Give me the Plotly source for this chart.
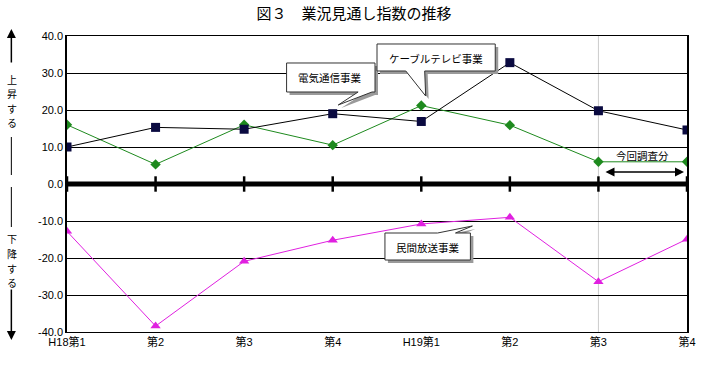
import plotly.graph_objects as go

categories = ["H18第1", "第2", "第3", "第4", "H19第1", "第2", "第3", "第4"]
telecom = [10.0, 15.3, 14.8, 19.0, 16.9, 32.8, 19.8, 14.6]      # 電気通信事業
cable = [16.0, 5.3, 16.0, 10.5, 21.2, 15.9, 6.0, 6.0]           # ケーブルテレビ事業
broadcast = [-12.8, -38.4, -20.9, -15.2, -10.8, -9.0, -26.4, -14.9]  # 民間放送事業
zero_line = [0.0] * len(categories)
y_ticks = [40, 30, 20, 10, 0, -10, -20, -30, -40]
y_ticktext = ["40.0", "30.0", "20.0", "10.0", "0.0", "-10.0", "-20.0", "-30.0", "-40.0"]

W, H = 708, 366
ML, MR, MT, MB = 67, 17, 36, 34
PW, PH = W - ML - MR, H - MT - MB

def px(x, y):
    return (x - ML) / PW, (H - MB - y) / PH

xs = list(range(len(categories)))
FONT = "Liberation Sans, Noto Sans CJK JP, sans-serif"
JFONT = "Noto Sans CJK JP, sans-serif"

fig = go.Figure()
fig.add_trace(go.Scatter(x=xs, y=zero_line, mode="lines+markers",
                         line=dict(color="black", width=5),
                         marker=dict(symbol="line-ns", size=11, line=dict(color="black", width=2.5)),
                         hoverinfo="skip", showlegend=False))
fig.add_trace(go.Scatter(x=xs, y=cable, mode="lines+markers", name="ケーブルテレビ事業",
                         line=dict(color="#1e8a1e", width=1),
                         marker=dict(symbol="diamond", size=8, color="#1e8a1e")))
fig.add_trace(go.Scatter(x=xs, y=telecom, mode="lines+markers", name="電気通信事業",
                         line=dict(color="black", width=1),
                         marker=dict(symbol="square", size=9, color="#0a0a40")))
fig.add_trace(go.Scatter(x=xs, y=broadcast, mode="lines+markers", name="民間放送事業",
                         line=dict(color="#e020e0", width=1),
                         marker=dict(symbol="triangle-up", size=9, color="#e020e0")))

shapes = []
shapes.append(dict(type="line", xref="x", yref="y", x0=6, x1=6, y0=-40, y1=40,
                   line=dict(color="#cccccc", width=1), layer="below"))

def path(points):
    pts = [px(x, y) for x, y in points]
    return "M %f %f " % pts[0] + " ".join("L %f %f" % p for p in pts[1:]) + " Z"

def callout(points):
    sh = [(x + 3, y + 3) for x, y in points]
    shapes.append(dict(type="path", xref="paper", yref="paper", path=path(sh),
                       fillcolor="#9a9a9a", line=dict(width=0)))
    shapes.append(dict(type="path", xref="paper", yref="paper", path=path(points),
                       fillcolor="white", line=dict(color="#333333", width=1)))

callout([(288, 63), (377, 63), (377, 92), (374, 92), (340, 105), (360, 92), (288, 92)])
callout([(379, 44), (498, 44), (498, 71), (427, 71), (428, 96), (408, 71), (379, 71)])
callout([(387, 233), (440, 233), (475, 226), (458, 233), (473, 233), (473, 260), (387, 260)])

for y0, y1 in [(137, 175), (187, 227)]:
    a = px(11, y0); b = px(11, y1)
    shapes.append(dict(type="line", xref="paper", yref="paper", x0=a[0], x1=b[0], y0=a[1], y1=b[1],
                       line=dict(color="black", width=1)))

annotations = []
def ann_text(x, y, text, size=11, font=JFONT):
    p = px(x, y)
    annotations.append(dict(xref="paper", yref="paper", x=p[0], y=p[1], text=text, showarrow=False,
                            font=dict(family=font, size=size, color="black"), borderpad=0,
                            xanchor="center", yanchor="middle"))

ann_text(332, 77, "電気通信事業", size=10.5)
ann_text(438, 58, "ケーブルテレビ事業", size=10.5)
ann_text(430, 247, "民間放送事業", size=10.5)
ann_text(646, 155, "今回調査分", size=10.5)
for i, ch in enumerate("上昇する"):
    ann_text(12, 79 + 14.6 * i, ch, size=10)
for i, ch in enumerate("下降する"):
    ann_text(12, 239 + 14.6 * i, ch, size=10)

def arrow(hx, hy, tx, ty, both=False):
    p = px(hx, hy)
    annotations.append(dict(xref="paper", yref="paper", x=p[0], y=p[1], ax=tx - hx, ay=ty - hy,
                            axref="pixel", ayref="pixel", text="", showarrow=True,
                            arrowhead=2, arrowsize=1.2, arrowwidth=1.5, arrowcolor="black",
                            arrowside="end+start" if both else "end"))

arrow(11, 29, 11, 64)
arrow(11, 340, 11, 288)
arrow(688, 172, 608, 172, both=True)

fig.update_layout(
    width=W, height=H, margin=dict(l=ML, r=MR, t=MT, b=MB),
    paper_bgcolor="white", plot_bgcolor="white", showlegend=False,
    title=dict(text="図３　業況見通し指数の推移", x=0.5, xanchor="center", y=1 - 14 / H, yanchor="middle",
               font=dict(family=JFONT, size=15, color="black")),
    shapes=shapes, annotations=annotations,
    xaxis=dict(range=[0, len(categories) - 1], tickvals=xs, ticktext=categories, showgrid=False,
               zeroline=False, showline=True, mirror=True, linecolor="black", linewidth=1,
               tickfont=dict(family=FONT, size=11, color="black"), fixedrange=True),
    yaxis=dict(range=[-40, 40], tickvals=y_ticks, ticktext=y_ticktext, showgrid=True,
               gridcolor="black", gridwidth=1, zeroline=False, showline=True, mirror=True,
               linecolor="black", linewidth=1.5, tickfont=dict(family=FONT, size=11, color="black"),
               fixedrange=True),
)

fig.write_html("out.html", config={"displayModeBar": False},
               post_script="document.body.style.margin='0';document.body.style.overflow='hidden';")
